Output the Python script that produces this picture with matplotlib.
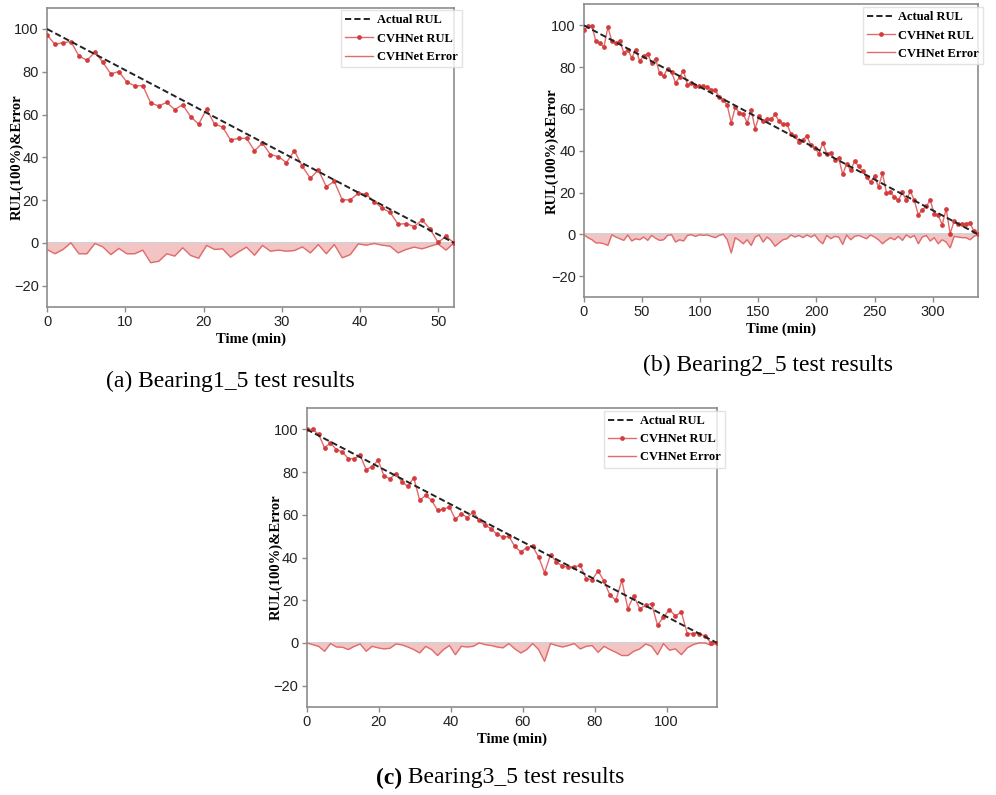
import numpy as np
import matplotlib
matplotlib.use("Agg")
import matplotlib.pyplot as plt
from matplotlib.lines import Line2D

# ---------------- data ----------------
# (a) Bearing1_5
end_a = 52
rul_a = [97.2, 92.8, 93.6, 94.1, 87.4, 85.4, 89.1, 84.4, 79.0, 80.1, 75.2, 73.4, 73.5,
         65.4, 64.0, 65.7, 62.3, 64.6, 59.0, 55.5, 62.5, 55.5, 54.2, 48.1, 48.8, 48.9,
         43.1, 46.6, 41.3, 40.3, 37.5, 43.1, 35.7, 30.2, 34.1, 26.3, 28.7, 20.1, 20.1,
         23.2, 22.7, 19.3, 16.2, 14.2, 8.7, 9.0, 7.6, 10.7, 6.5, 0.2, 3.0, 0.0]
err_a = [-3.1, -5.1, -3.1, 0.0, -5.1, -5.1, -0.3, -1.9, -5.5, -2.6, -5.1, -5.1, -3.4,
         -9.3, -8.6, -5.1, -6.2, -2.3, -5.9, -7.2, -1.2, -3.1, -2.8, -6.7, -4.2, -2.0,
         -5.8, -1.2, -3.9, -3.4, -3.9, -3.6, -1.9, -4.7, -0.8, -5.1, -0.8, -7.0, -5.5,
         -0.5, -1.1, -0.3, -1.1, -1.6, -4.7, -3.1, -2.0, -2.8, -1.6, -0.5, -3.4, 0.0]

# (b) Bearing2_5
end_b = 339
rul_b = [97.6, 99.7, 99.7, 92.3, 91.4, 89.6, 99.2, 92.5, 91.4, 92.5, 86.9, 88.4, 84.4,
         88.4, 82.9, 85.5, 86.4, 81.8, 84.1, 77.0, 75.8, 79.3, 77.7, 72.4, 75.3, 78.3,
         71.5, 72.4, 70.8, 70.8, 70.8, 70.5, 68.9, 68.9, 65.7, 64.4, 61.7, 53.4, 60.9,
         58.2, 57.6, 53.4, 59.5, 50.6, 56.6, 54.1, 55.0,
         55.0, 57.4, 54.2, 52.6, 52.6, 48.2, 46.9, 44.2, 45.3, 47.0, 42.6, 41.5, 38.6,
         43.7, 38.6, 39.1, 35.7, 36.5, 28.7, 33.8, 30.6, 35.1, 32.5, 30.3, 27.4, 25.0,
         27.8, 22.6, 29.3, 19.9, 20.1, 17.9, 16.3, 20.1, 16.3, 20.7, 16.3, 9.3, 11.8,
         13.4, 16.3, 9.9, 9.1, 4.6, 12.1, 0.3, 6.4, 5.1, 5.1, 5.1, 5.4, 1.4, 0.0]
err_b = [-0.3, -1.6, -2.6, -4.1, -4.1, -4.5, -5.3, -0.2, -1.3, -2.1, -2.9, -0.3, -3.2,
         -2.1, -2.6, -1.3, -2.9, -0.5, -1.9, -2.9, -2.6, -0.5, -0.2, -3.7, -2.6, -3.2,
         -0.5, -0.2, -1.0, -0.2, -0.5, -0.3, -1.0, -1.6, -0.5, 0.0, -2.6, -8.9, -1.6,
         -2.9, -4.5, -2.6, -5.3, -1.3, -0.3, -3.7, -1.3, -2.9, -5.7, -4.1, -2.6, -2.1,
         -0.3, -1.3, -0.5, -1.6, -0.3, -1.3, -0.3, -2.9, -4.5, -0.5, -2.1, -1.0, -1.3,
         -4.8, -0.3, -2.6, -1.0, -0.5, -1.3, -2.1, -0.3, -1.3, -2.6, -4.5, -2.9, -1.6,
         -2.6, -1.0, -2.9, -0.3, -1.6, -0.5, -4.5, -1.3, -0.5, -3.2, -1.6, -4.5, -2.6,
         -3.7, -6.5, -1.0, -1.3, -1.6, -1.6, -2.6, -1.0, 0.0]

# (c) Bearing3_5
end_c = 114
rul_c = [100.0, 100.0, 97.7, 91.4, 93.6, 90.5, 89.4, 86.3, 86.3, 87.8, 81.1, 82.6, 85.5,
         78.2, 76.9, 79.3, 75.4, 73.3, 77.4, 66.8, 69.1, 66.8, 62.1, 62.6, 63.7, 57.9,
         60.5, 58.7, 61.3, 57.4, 55.1, 53.5, 50.9, 49.6, 49.9, 45.2, 42.6, 44.6, 45.2,
         40.2, 32.9, 41.3, 37.9, 35.9, 35.6, 35.6, 36.3, 30.1, 29.6, 33.7, 29.0, 22.3,
         20.0, 29.3, 16.1, 22.0, 16.1, 17.6, 18.4, 8.3, 12.2, 15.6, 12.6, 14.5, 4.4,
         4.4, 4.4, 3.1, 0.0, 0.0]
err_c = [0.0, -0.8, -1.6, -3.9, -0.3, -1.9, -2.0, -3.1, -1.6, -0.5, -3.9, -1.6, -2.3,
         -2.8, -2.5, -0.5, -0.9, -1.9, -3.1, -4.7, -1.6, -3.1, -5.9, -3.1, -1.2, -5.5,
         -1.6, -1.9, -1.6, 0.0, -0.8, -1.2, -1.9, -2.3, -0.3, -2.8, -4.7, -3.1, -0.3,
         -3.1, -8.6, -0.3, -1.2, -1.9, -1.2, -0.3, -2.8, -1.6, -1.2, -4.4, -1.6, -3.1,
         -4.4, -5.9, -5.9, -3.9, -2.8, -0.5, -1.6, -5.5, -0.3, -3.4, -2.8, -5.5, -2.3,
         -0.8, 0.0, 0.0, -1.2, 0.0]

actual_start = 100
actual_end = 0
y_ticks = [-20, 0, 20, 40, 60, 80, 100]
xticks_a = [0, 10, 20, 30, 40, 50]
xticks_b = [0, 50, 100, 150, 200, 250, 300]
xticks_c = [0, 20, 40, 60, 80, 100]

labels = ["Actual RUL", "CVHNet RUL", "CVHNet Error"]
ylabel_txt = "RUL(100%)&Error"
xlabel_txt = "Time (min)"

# ---------------- style ----------------
W, H = 996, 795
fig = plt.figure(figsize=(W / 100, H / 100), dpi=100)
SERIF = ["Liberation Serif", "DejaVu Serif"]
SANS = ["Liberation Sans", "DejaVu Sans"]
LINE_RED = "#e06b6b"
MARK_RED = "#d43c3c"
FILL = "#f2c4c4"
SPINE = "#8c8c8c"


def px_axes(l, r, t, b):
    return [l / W, 1 - b / H, (r - l) / W, (b - t) / H]


def panel(rect, end, rul, err, xticks, leg_anchor, ylab_x):
    ax = fig.add_axes(rect)
    t = np.linspace(0, end, len(rul))
    te = np.linspace(0, end, len(err))
    ax.axhline(0, color="#cfcfcf", lw=1.3, zorder=1)
    ax.fill_between(te, err, 0, color=FILL, lw=0, zorder=2)
    ax.plot(te, err, color=LINE_RED, lw=1.0, zorder=3)
    ax.plot(t, rul, color=LINE_RED, lw=1.0, marker="o", ms=2.4,
            mfc=MARK_RED, mec=MARK_RED, zorder=4)
    ax.plot([0, end], [actual_start, actual_end], color="#222222", lw=1.4,
            ls=(0, (3.2, 1.6)), zorder=5)
    ax.set_xlim(0, end)
    ax.set_ylim(-30, 110)
    ax.set_yticks(y_ticks)
    ax.set_xticks(xticks)
    for s in ax.spines.values():
        s.set_color(SPINE)
        s.set_linewidth(1.2)
    ax.tick_params(colors=SPINE, length=3.5, width=1.0, labelsize=10.5,
                   labelcolor="#222222", pad=2.5)
    for lab in ax.get_xticklabels() + ax.get_yticklabels():
        lab.set_family(SANS)
    ax.set_xlabel(xlabel_txt, family=SERIF, fontweight="bold", fontsize=10.5,
                  labelpad=2)
    ax.set_ylabel(ylabel_txt, family=SERIF, fontweight="bold", fontsize=10.5)
    ax.yaxis.set_label_coords(ylab_x, 0.5)
    handles = [
        Line2D([], [], color="#222222", lw=1.4, ls=(0, (3.2, 1.6))),
        Line2D([], [], color=LINE_RED, lw=1.0, marker="o", ms=2.4,
               mfc=MARK_RED, mec=MARK_RED),
        Line2D([], [], color=LINE_RED, lw=1.0),
    ]
    ax.legend(handles, labels, loc="upper right", bbox_to_anchor=leg_anchor,
              prop={"family": SERIF, "weight": "bold", "size": 9.0},
              frameon=True, fancybox=False, edgecolor="#dddddd",
              handlelength=2.2, handletextpad=0.3, borderpad=0.35,
              labelspacing=0.5, borderaxespad=0.2)
    return ax


ax_a = panel(px_axes(47, 454, 7.6, 307), end_a, rul_a, err_a, xticks_a,
             (1.025, 1.0), -0.057)
ax_b = panel(px_axes(584, 978, 4.5, 297), end_b, rul_b, err_b, xticks_b,
             (1.02, 1.0), -0.063)
ax_c = panel(px_axes(306.7, 717, 408, 707), end_c, rul_c, err_c, xticks_c,
             (1.025, 1.0), -0.058)

# captions
cap_size = 17
fig.text(230 / W, 1 - 381 / H, "(a) Bearing1_5 test results", family=SERIF,
         fontsize=cap_size, ha="center", va="center")
fig.text(768 / W, 1 - 365 / H, "(b) Bearing2_5 test results", family=SERIF,
         fontsize=cap_size, ha="center", va="center")

fig.canvas.draw()
r = fig.canvas.get_renderer()
t1 = fig.text(0, 1 - 778 / H, "(c)", family=SERIF, fontweight="bold",
              fontsize=cap_size, ha="left", va="center")
t2 = fig.text(0, 1 - 778 / H, " Bearing3_5 test results", family=SERIF,
              fontsize=cap_size, ha="left", va="center")
w1 = t1.get_window_extent(r).width
w2 = t2.get_window_extent(r).width
x0 = 500 - (w1 + w2) / 2
t1.set_x(x0 / W)
t2.set_x((x0 + w1) / W)

fig.savefig("out.png", dpi=100)
